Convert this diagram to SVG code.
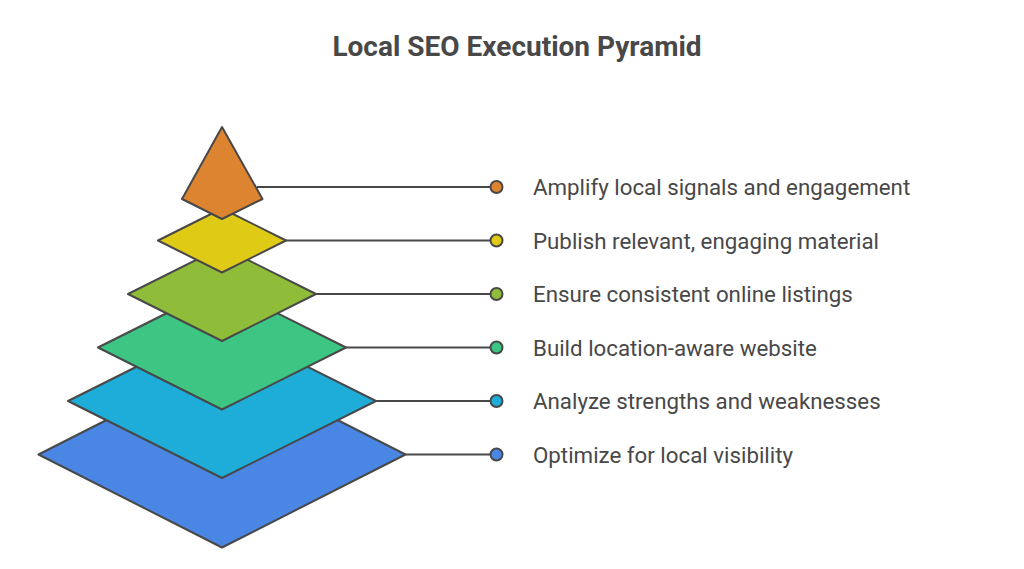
<svg xmlns="http://www.w3.org/2000/svg" width="1024" height="569" viewBox="0 0 1024 569">
<style>
.shape{stroke:#484848;stroke-width:2;stroke-linejoin:round}
.conn{stroke:#484848;stroke-width:2;fill:none}
.dot{stroke:#484848;stroke-width:2}
.lbl{font-family:Roboto,"Liberation Sans",sans-serif;font-size:22.3px;fill:#484848}
.title{font-family:Roboto,"Liberation Sans",sans-serif;font-size:28px;font-weight:bold;fill:#484848}
</style>
<rect width="1024" height="569" fill="#ffffff"/>
<text class="title" x="517" y="56" text-anchor="middle">Local SEO Execution Pyramid</text>
<g id="connectors">
<line class="conn" x1="257" y1="187" x2="490" y2="187"/>
<line class="conn" x1="286" y1="240.5" x2="490" y2="240.5"/>
<line class="conn" x1="316" y1="294" x2="490" y2="294"/>
<line class="conn" x1="346" y1="347.5" x2="490" y2="347.5"/>
<line class="conn" x1="376" y1="401" x2="490" y2="401"/>
<line class="conn" x1="406" y1="454.5" x2="490" y2="454.5"/>
</g>
<g id="level6">
<polygon class="shape" fill="#4A86E4" points="38.5,454.5 222,361.5 405.5,454.5 222,547.5"/>
<circle class="dot" cx="496.5" cy="454.5" r="6" fill="#4A86E4"/>
<text class="lbl" x="533" y="462.5">Optimize for local visibility</text>
</g>
<g id="level5">
<polygon class="shape" fill="#1EACD8" points="68,401 222,324 376,401 222,478"/>
<circle class="dot" cx="496.5" cy="401" r="6" fill="#1EACD8"/>
<text class="lbl" x="533" y="409">Analyze strengths and weaknesses</text>
</g>
<g id="level4">
<polygon class="shape" fill="#3CC583" points="98,347.5 222,285.5 346,347.5 222,409.5"/>
<circle class="dot" cx="496.5" cy="347.5" r="6" fill="#3CC583"/>
<text class="lbl" x="533" y="355.5">Build location-aware website</text>
</g>
<g id="level3">
<polygon class="shape" fill="#8FBD3A" points="128,294 222,247 316,294 222,341"/>
<circle class="dot" cx="496.5" cy="294" r="6" fill="#8FBD3A"/>
<text class="lbl" x="533" y="302">Ensure consistent online listings</text>
</g>
<g id="level2">
<polygon class="shape" fill="#DFCB15" points="158,240.5 222,208.5 286,240.5 222,272.5"/>
<circle class="dot" cx="496.5" cy="240.5" r="6" fill="#DFCB15"/>
<text class="lbl" x="533" y="248.5">Publish relevant, engaging material</text>
</g>
<g id="level1">
<polygon class="shape" fill="#DD8430" points="222,127 262.5,199 222,219 182,199"/>
<circle class="dot" cx="496.5" cy="187" r="6" fill="#DD8430"/>
<text class="lbl" x="533" y="195">Amplify local signals and engagement</text>
</g>
</svg>
